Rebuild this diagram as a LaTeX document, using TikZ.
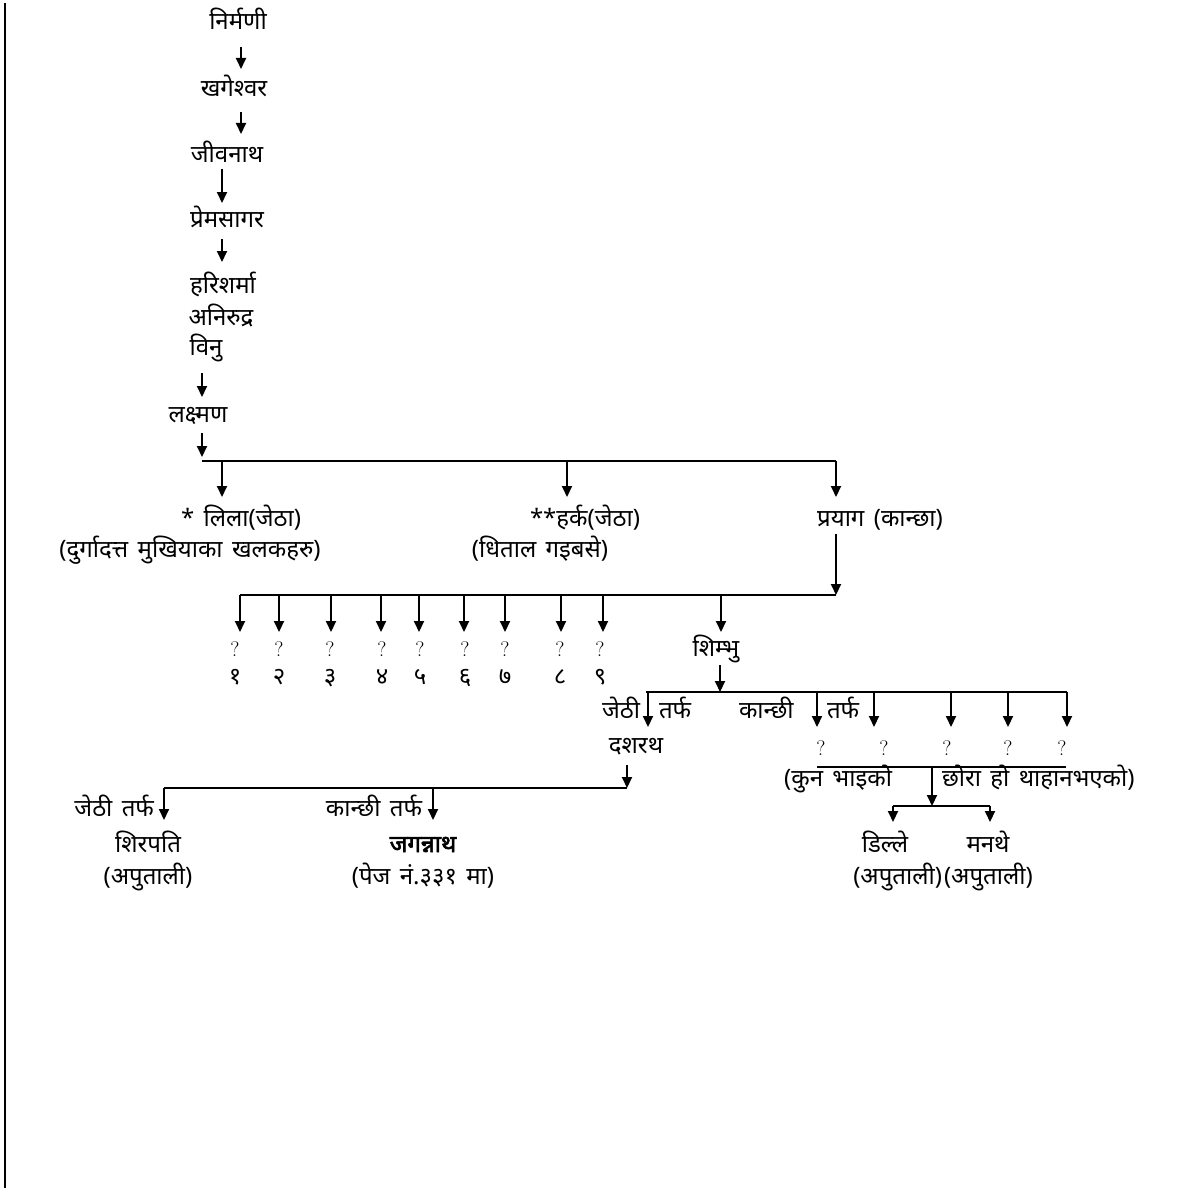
\documentclass[tikz,border=0pt]{standalone}
\usepackage{fontspec}
\newfontfamily\devfont[Script=Devanagari,WordSpace=1.5]{Noto Sans}
\newfontfamily\devbold[Script=Devanagari,FakeBold=2.5]{Noto Sans}
\usepackage{tikz}
\usetikzlibrary{arrows.meta,positioning}

\begin{document}
\begin{tikzpicture}[x=1pt,y=-1pt,line width=2pt,>={Triangle[length=11pt,width=10pt]},
  nm/.style={font=\devfont\fontsize{24}{28}\selectfont,inner sep=0pt,anchor=base},
  qm/.style={font=\fontsize{21}{24}\selectfont,inner sep=0pt,anchor=base}]
  \useasboundingbox (0,0) rectangle (1183,1188);
  \draw (5,3) -- (5,1188);
  % vamsha, top to bottom
  \node[nm] (nirmani) at (238,30) {निर्मणी};
  \node[nm] (khagesh) at (234,97) {खगेश्वर};
  \node[nm] (jivan) at (227,162) {जीवनाथ};
  \node[nm] (prem) at (227,227) {प्रेमसागर};
  \node[nm] (hari) at (223,293) {हरिशर्मा};
  \node[nm] (aniru) at (221,325) {अनिरुद्र};
  \node[nm] (vinu) at (206,355) {विनु};
  \node[nm] (laxman) at (198,422) {लक्ष्मण};
  \foreach \n/\x/\a/\b in {1/241/47/69,2/241/112/134,3/222/169/203,4/222/239/262,5/202/373/397,6/202/433/457}{
    \coordinate (up\n) at (\x,\a);
    \coordinate (dn\n) at (\x,\b);
    \draw[->] (up\n) -- (dn\n);
  }
  % laxman's sons
  \coordinate (bus1w) at (202,461);
  \coordinate (bus1e) at (836,461);
  \draw (bus1w) -- (bus1e);
  \foreach \n/\x in {lila/222,harka/567,prayag/836}{
    \coordinate (to\n) at (\x,497);
    \draw[->] (to\n |- bus1w) -- (to\n);
  }
  \node[nm] (lila) at (241,526) {* लिला(जेठा)};
  \node[nm] (lilanote) at (190,557) {(दुर्गादत्त मुखियाका खलकहरु)};
  \node[nm] (harka) at (585,526) {**हर्क(जेठा)};
  \node[nm] (harkanote) at (540,557) {(धिताल गइबसे)};
  \node[nm] (prayag) at (880,526) {प्रयाग (कान्छा)};
  % prayag's sons
  \coordinate (prdown) at (836,534);
  \coordinate (bus2w) at (240,595);
  \coordinate (bus2e) at (836,595);
  \draw (bus2w) -- (bus2e);
  \draw[->] (prdown) -- (bus2e);
  \foreach \n/\x/\nx/\d in {1/240/235/१,2/279/279/२,3/331/330/३,4/381/382/४,5/419/420/५,6/464/465/६,7/505/505/७,8/561/560/८,9/603/600/९}{
    \coordinate (son\n) at (\x,632);
    \draw[->] (son\n |- bus2w) -- (son\n);
    \node[qm] (q\n) at (\nx,656) {?};
    \node[nm] (num\n) at (\nx,684) {\d};
  }
  \coordinate (tosh) at (721,632);
  \draw[->] (tosh |- bus2w) -- (tosh);
  \node[nm] (shimbhu) at (716,656) {शिम्भु};
  % shimbhu's sons
  \coordinate (shdown) at (720,665);
  \coordinate (bus3w) at (646,692);
  \coordinate (bus3e) at (1067,692);
  \draw (bus3w) -- (bus3e);
  \draw[->] (shdown) -- (shdown |- bus3w);
  \foreach \n/\x in {1/648,2/817,3/874,4/951,5/1008,6/1067}{
    \coordinate (sh\n) at (\x,727);
    \draw[->] (sh\n |- bus3w) -- (sh\n);
  }
  \node[nm,anchor=base east] (jethi) at (641,718) {जेठी};
  \node[nm,anchor=base west] (tarf1) at (658,718) {तर्फ};
  \node[nm,anchor=base west] (kanchhi) at (738,718) {कान्छी};
  \node[nm,anchor=base west] (tarf2) at (826,718) {तर्फ};
  \node[nm] (dasharath) at (636,753) {दशरथ};
  \foreach \n/\x in {1/821,2/884,3/947,4/1008,5/1062}
    \node[qm] (qq\n) at (\x,755) {?};
  % unknown father
  \coordinate (bus4a) at (817,767);
  \coordinate (bus4b) at (1066,767);
  \draw (bus4a) -- (bus4b);
  \node[nm,anchor=base east] (kun) at (893,786) {(कुन भाइको};
  \node[nm,anchor=base west] (chhora) at (941,786) {छोरा हो थाहानभएको)};
  \coordinate (ukdown) at (932,806);
  \draw[->] (ukdown |- bus4a) -- (ukdown);
  \coordinate (bus5w) at (893,806);
  \coordinate (bus5e) at (990,806);
  \draw (bus5w) -- (bus5e);
  \foreach \n/\x in {dille/893,manthe/990}{
    \coordinate (to\n) at (\x,822);
    \draw[->] (to\n |- bus5w) -- (to\n);
  }
  \node[nm] (dille) at (885,852) {डिल्ले};
  \node[nm] (manthe) at (988,852) {मनथे};
  \node[nm,anchor=base east] (dillenote) at (943,884) {(अपुताली)};
  \node[nm,anchor=base west] (manthenote) at (943,884) {(अपुताली)};
  % dasharath's sons
  \coordinate (dadown) at (627,765);
  \coordinate (bus6w) at (164,788);
  \coordinate (bus6e) at (627,788);
  \draw (bus6w) -- (bus6e);
  \draw[->] (dadown) -- (bus6e);
  \foreach \n/\x in {shirpati/164,jagannath/433}{
    \coordinate (to\n) at (\x,820);
    \draw[->] (to\n |- bus6w) -- (to\n);
  }
  \node[nm,anchor=base east] (jethitarf) at (155,816) {जेठी तर्फ};
  \node[nm,anchor=base east] (kanchhitarf) at (423,816) {कान्छी तर्फ};
  \node[nm] (shirpati) at (148,852) {शिरपति};
  \node[nm] (shirnote) at (148,884) {(अपुताली)};
  \node[nm,font=\devbold\fontsize{24}{28}\selectfont] (jagannath) at (423,852) {जगन्नाथ};
  \node[nm] (jagnote) at (423,884) {(पेज नं.३३१ मा)};
\end{tikzpicture}
\end{document}
